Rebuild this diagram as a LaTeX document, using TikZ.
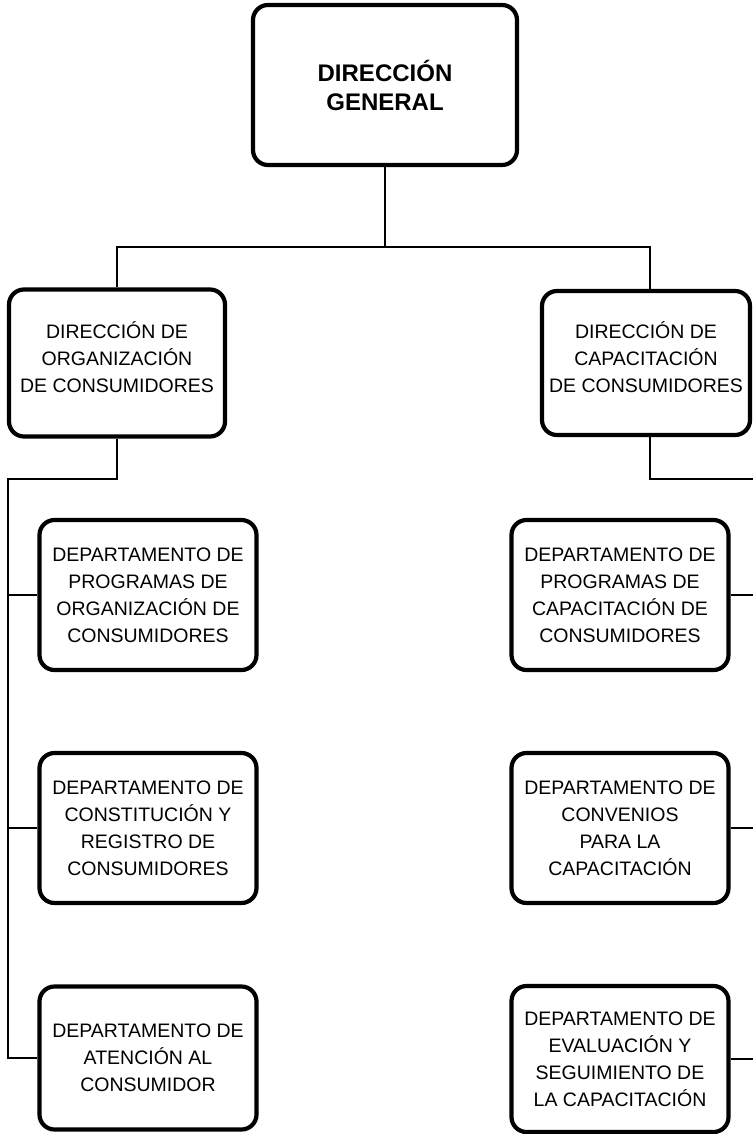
\documentclass[tikz,border=0pt]{standalone}
\usepackage{fontspec}
\setmainfont{Liberation Sans}
\begin{document}
\begin{tikzpicture}[x=1pt,y=-1pt,
  unit/.style={draw, line width=4.2pt, rounded corners=15pt, align=center,
    inner sep=0pt, font=\fontsize{19.5}{27}\selectfont},
  headbox/.style={unit, font=\bfseries\fontsize{24}{29}\selectfont},
  link/.style={line width=2.4pt}]
\useasboundingbox (0,0) rectangle (752,1134);
\fill[white] (0,0) rectangle (752,1134);

% top level
\node[headbox, minimum width=264pt, minimum height=160pt] (dg) at (385,85)
  {DIRECCIÓN\\GENERAL};

% second level (text sits slightly above the middle)
\node[unit, minimum width=216pt, minimum height=147pt] (doc) at (117,363)
  {DIRECCIÓN DE\\ORGANIZACIÓN\\DE CONSUMIDORES\\[-15pt]};
\node[unit, minimum width=208pt, minimum height=144pt] (dcc) at (646,363)
  {DIRECCIÓN DE\\CAPACITACIÓN\\DE CONSUMIDORES\\[-15pt]};

% departments, left column
\node[unit, minimum width=217pt, minimum height=150pt] (l1) at (148,595)
  {DEPARTAMENTO DE\\PROGRAMAS DE\\ORGANIZACIÓN DE\\CONSUMIDORES};
\node[unit, minimum width=217pt, minimum height=150pt] (l2) at (148,828)
  {DEPARTAMENTO DE\\CONSTITUCIÓN Y\\REGISTRO DE\\CONSUMIDORES};
\node[unit, minimum width=217pt, minimum height=143pt] (l3) at (148,1058)
  {DEPARTAMENTO DE\\ATENCIÓN AL\\CONSUMIDOR};

% departments, right column
\node[unit, minimum width=217pt, minimum height=150pt] (r1) at (620,595)
  {DEPARTAMENTO DE\\PROGRAMAS DE\\CAPACITACIÓN DE\\CONSUMIDORES};
\node[unit, minimum width=217pt, minimum height=150pt] (r2) at (620,828)
  {DEPARTAMENTO DE\\CONVENIOS\\PARA LA\\CAPACITACIÓN};
\node[unit, minimum width=217pt, minimum height=146pt] (r3) at (620,1059)
  {DEPARTAMENTO DE\\EVALUACIÓN Y\\SEGUIMIENTO DE\\LA CAPACITACIÓN};

% branch points
\coordinate (bar) at (385,247);
\coordinate (lspine) at (8,479);
\coordinate (rspine) at (760,479);
\coordinate (rstub1) at (760,595);
\coordinate (rstub2) at (760,828);
\coordinate (rstub3) at (760,1059);

% connectors
\draw[link] (dg.south) -- (bar);
\draw[link] (doc.north) |- (bar) -| ([xshift=4pt]dcc.north);
\draw[link] (doc.south) |- (lspine) -- (lspine |- l3.west) -- (l3.west);
\draw[link] (lspine |- l1.west) -- (l1.west);
\draw[link] (lspine |- l2.west) -- (l2.west);
\draw[link] ([xshift=4pt]dcc.south) |- (rspine);
\draw[link] (r1.east) -- (rstub1);
\draw[link] (r2.east) -- (rstub2);
\draw[link] (r3.east) -- (rstub3);
\end{tikzpicture}
\end{document}
